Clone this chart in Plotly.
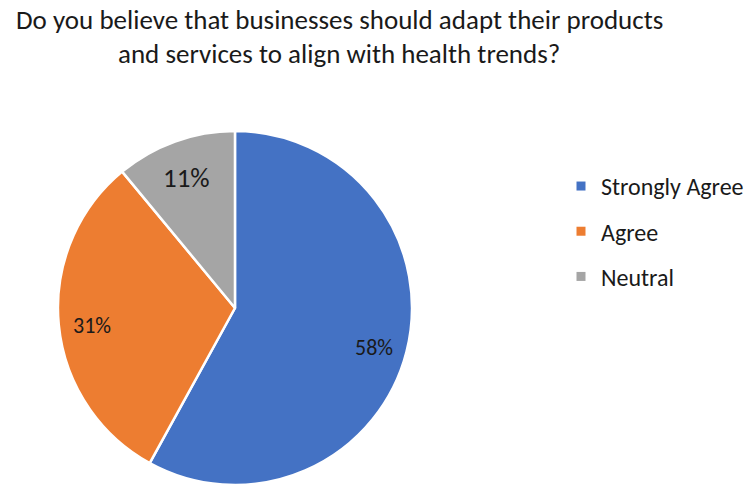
import math
import plotly.graph_objects as go

# Survey responses
labels = ["Strongly Agree", "Agree", "Neutral"]
shares = [58, 31, 11]
colors = ["#4472C4", "#ED7D31", "#A5A5A5"]
label_sizes = [22, 22, 27]

title_lines = ["Do you believe that businesses should adapt their products",
               "and services to align with health trends?"]

FONT = "Carlito, Lato, sans-serif"
TEXT = "#1a1a1a"

W, H = 750, 485
pie_x = [0.0773, 0.5493]
pie_y = [0.0, 0.7299]

fig = go.Figure()

fig.add_trace(go.Pie(
    labels=labels,
    values=shares,
    sort=False,
    direction="clockwise",
    rotation=0,
    marker=dict(colors=colors, line=dict(color="white", width=2.5)),
    textinfo="none",
    domain=dict(x=pie_x, y=pie_y),
    showlegend=False,
    hoverinfo="label+percent",
))

# Percentage labels placed on each slice's mid-angle
cx_px = (pie_x[0] + pie_x[1]) / 2 * W
cy_px = H - (pie_y[0] + pie_y[1]) / 2 * H
radius = min((pie_x[1] - pie_x[0]) * W, (pie_y[1] - pie_y[0]) * H) / 2
total = sum(shares)
start = 0.0
for share, size in zip(shares, label_sizes):
    span = share / total * 360
    mid = math.radians(start + span / 2)
    start += span
    px = cx_px + 0.81 * radius * math.sin(mid)
    py = cy_px - 0.81 * radius * math.cos(mid) + 4
    fig.add_annotation(
        x=px / W, y=1 - py / H, xref="paper", yref="paper",
        text=f"{round(share / total * 100)}%", showarrow=False,
        xanchor="center", yanchor="middle",
        font=dict(family=FONT, size=size, color=TEXT),
    )

# Title, two centred lines
for line, ypx in zip(title_lines, [20, 53]):
    fig.add_annotation(
        x=0.452, y=1 - ypx / H, xref="paper", yref="paper",
        text=line, showarrow=False, xanchor="center", yanchor="middle",
        font=dict(family=FONT, size=27, color=TEXT),
    )

# Legend entries (one group per category so their spacing can be set)
for name, col in zip(labels, colors):
    fig.add_trace(go.Scatter(
        x=[None], y=[None], mode="markers", name=name,
        legendgroup=name,
        marker=dict(symbol="square", size=9, color=col),
    ))

fig.update_layout(
    width=W, height=H,
    margin=dict(l=0, r=0, t=0, b=0),
    paper_bgcolor="white", plot_bgcolor="white",
    xaxis=dict(visible=False), yaxis=dict(visible=False),
    legend=dict(x=0.748, y=0.662, xanchor="left", yanchor="top",
                traceorder="grouped", tracegroupgap=11,
                font=dict(family=FONT, size=24, color=TEXT),
                itemwidth=30),
)

fig.write_html("out.html")
